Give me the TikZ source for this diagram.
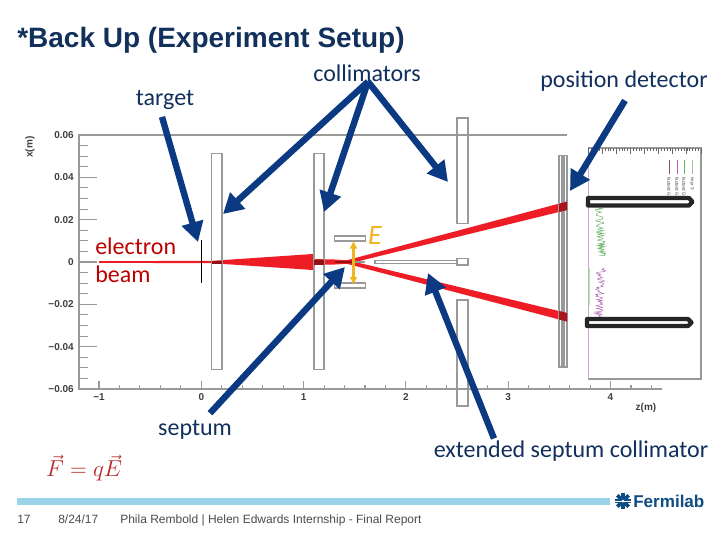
\documentclass[tikz,border=0pt]{standalone}
\usepackage{fontspec}
\setmainfont{Liberation Sans}
\newfontfamily\labelfont{Carlito}
\usetikzlibrary{arrows.meta, calc}
\definecolor{navyarrow}{HTML}{0B3A82}
\definecolor{navytext}{HTML}{12305C}
\definecolor{beamred}{HTML}{EE1C25}
\definecolor{darkred}{HTML}{8E1218}
\definecolor{axisgray}{HTML}{999999}
\definecolor{fieldyellow}{HTML}{F0B41E}
\definecolor{barblue}{HTML}{9BD3E8}
\definecolor{labblue}{HTML}{0F4C81}
\definecolor{formulared}{HTML}{B5282C}

\begin{document}
\begin{tikzpicture}[x=0.75pt,y=-0.75pt,
    callout/.style={line width=4.8pt,navyarrow,-{Triangle[length=15pt,width=16pt]}},
    lbl/.style={font=\labelfont\fontsize{18}{20}\selectfont,text=navytext,inner sep=0pt},
    ticklbl/.style={font=\bfseries\fontsize{7.5}{9}\selectfont,text=black!75,inner sep=0pt},
    plate/.style={draw=axisgray,line width=0.9pt},
    marker/.style={draw=black!85,line width=3.2pt,line join=round},
    foot/.style={font=\fontsize{9}{10}\selectfont,text=black!70,inner sep=0pt,anchor=base west}]
    \useasboundingbox[fill=white] (0,0) rectangle (720,540);

    % Title
    \node[anchor=base west,inner sep=0pt,text=navytext,font=\bfseries\fontsize{21}{24}\selectfont] (title) at (17,47) {*Back Up (Experiment Setup)};

    % Axes
    \draw[axisgray,line width=0.9pt] (567,135) -- (79,135) -- (79,389) -- (662,389);
    \foreach \k in {0,...,24} {
        \pgfmathsetmacro{\ypos}{135+\k*254/24}
        \draw[axisgray,line width=0.8pt] (79,\ypos) -- ++(9,0);
    }
    \foreach \k in {0,...,6} {
        \pgfmathsetmacro{\ypos}{135+\k*254/6}
        \draw[axisgray,line width=0.8pt] (79,\ypos) -- ++(18,0);
    }
    \foreach \k in {0,...,27} {
        \pgfmathsetmacro{\xpos}{99+\k*102.3/5}
        \draw[axisgray,line width=0.8pt] (\xpos,389) -- ++(0,-4);
    }
    \foreach \k/\t in {0/−1,1/0,2/1,3/2,4/3,5/4} {
        \pgfmathsetmacro{\xpos}{99+\k*102.3}
        \draw[axisgray,line width=0.8pt] (\xpos,389) -- ++(0,-8);
        \node[ticklbl] (zt\k) at (\xpos,397) {\t};
    }
    \foreach \k/\t in {0/0.06,1/0.04,2/0.02,3/0,4/−0.02,5/−0.04,6/−0.06} {
        \pgfmathsetmacro{\ypos}{135+\k*254/6}
        \node[ticklbl,anchor=east] (xt\k) at (74,\ypos) {\t};
    }
    \node[ticklbl,rotate=90] (xaxis) at (30,147) {x(m)};
    \node[ticklbl] (zaxis) at (646,408) {z(m)};

    % Side panel
    \draw[axisgray,line width=0.9pt] (588,148) -- (701,148) -- (701,379) -- (588,379);
    \draw[violet!35,line width=0.6pt] (588,148) -- (588,379);
    \foreach \k in {0,...,40} {
        \pgfmathsetmacro{\xpos}{588+\k*113/40}
        \draw[black!60,line width=0.4pt] (\xpos,148) -- ++(0,3);
    }
    \foreach \k in {0,...,8} {
        \pgfmathsetmacro{\xpos}{588+\k*113/8}
        \draw[black!60,line width=0.6pt] (\xpos,148) -- ++(0,6);
    }
    \pgfmathsetseed{17}
    \draw[green!50!black!60,line width=0.35pt] plot[domain=208:256,samples=60] ({595+8*rnd+(\x-208)*0.06},\x);
    \draw[violet!60,line width=0.35pt] plot[domain=268:320,samples=60] ({594+9*rnd+(320-\x)*0.05},\x);
    \draw[green!40,line width=0.4pt] (589,268) -- (589,305);
    \foreach \xpos/\t/\c in {692/hnyr 3/green!25!gray!60,684/factord G/green!50!black!60,677/factord G/violet!60,669/factord G/purple!60!black!70} {
        \draw[\c,line width=0.4pt] (\xpos,160) -- (\xpos,174);
        \node[rotate=-90,anchor=west,inner sep=0pt,text=black!75,font=\fontsize{3.4}{4}\selectfont] at (\xpos,177) {\t};
    }

    % Beam
    \fill[beamred] (99,261.2) -- (212,260.8) -- (313,254) -- (313,270) -- (212,263.2) -- (99,262.8) -- cycle;
    \fill[beamred] (313,259) -- (335,259.5) -- (350,260.5) -- (350,263.5) -- (335,264.5) -- (313,265) -- cycle;
    \fill[beamred] (344,261) -- (567,201.5) -- (567,210) -- (347,264) -- cycle;
    \fill[beamred] (347,260) -- (567,313) -- (567,321.5) -- (344,263) -- cycle;

    % Collimators and detector
    \foreach \a/\b/\c/\d in {211.5/153.5/222/369.5,314/153.5/324/369.5,457/118/468/223.5,457/300/468/406,559/155.5/562/367,564/155.5/567/367,334.5/236/365.5/241,334.5/283/365.5/288,457/258.5/468/265,375/260.5/457/263.5} {
        \draw[plate] (\a,\b) rectangle (\c,\d);
    }
    \fill[darkred] (211.5,261) rectangle (222,263.5);
    \fill[darkred] (314,259.5) rectangle (324,264.5);
    \fill[darkred] (335,261) rectangle (352,263);
    \draw[axisgray,line width=0.9pt] (352,262) -- (365,262);
    \fill[darkred!70!beamred] (559,204) -- (567,201.5) -- (567,210) -- (559,212) -- cycle;
    \fill[darkred!70!beamred] (559,311) -- (567,313) -- (567,321.5) -- (559,319.5) -- cycle;
    \draw[black,line width=0.8pt] (201.5,240) -- (201.5,283);

    % E field
    \draw[fieldyellow,line width=1.6pt,{Latex[length=6pt,width=6pt]}-{Latex[length=6pt,width=6pt]}] (353.5,240.5) -- (353.5,285);

    % Detector markers
    \draw[marker] (588,198) -- (689,198) -- (692.5,201.8) -- (689,205.5) -- (588,205.5) -- cycle;
    \draw[marker] (587,319) -- (688,319) -- (691.5,322.5) -- (688,326) -- (587,326) -- cycle;

    % Labels
    \node[lbl] (target) at (165,100) {target};
    \node[lbl] (collimators) at (367,73) {collimators};
    \node[lbl] (posdet) at (624,81) {position detector};
    \node[lbl] (septum) at (195,430) {septum};
    \node[lbl] (extsept) at (571,451) {extended septum collimator};
    \node[lbl,text=red!75!black,align=left,anchor=north west,font=\labelfont\fontsize{18}{21}\selectfont] (beam) at (95,238) {electron\\beam};
    \node[lbl,text=fieldyellow,font=\labelfont\itshape\fontsize{21}{22}\selectfont] (efield) at (375,236) {E};
    \node[inner sep=0pt,text=formulared,font=\fontsize{17.5}{20}\selectfont] (force) at (84,468) {$\vec{F}=q\vec{E}$};

    % Tips
    \coordinate (tipTarget) at (198,242);
    \coordinate (tipColA) at (223,214);
    \coordinate (tipColB) at (324,212);
    \coordinate (tipColC) at (448,182);
    \coordinate (tipDet) at (570,191);
    \coordinate (tipSeptum) at (345,267);
    \coordinate (tipExt) at (428,273);

    \draw[callout] ($(target.south)+(-3,7)$) -- (tipTarget);
    \draw[callout] ($(collimators.south)+(1,0)$) -- (tipColA);
    \draw[callout] ($(collimators.south)+(1,0)$) -- (tipColB);
    \draw[callout] ($(collimators.south)+(1,0)$) -- (tipColC);
    \draw[callout] ($(posdet.south)+(1,9)$) -- (tipDet);
    \draw[callout] ($(septum.north)+(15,-7)$) -- (tipSeptum);
    \draw[callout] ($(extsept.north)+(-77,-2)$) -- (tipExt);

    % Footer
    \fill[barblue] (17,498) rectangle (610,505);
    \node[foot] (page) at (17,523) {17};
    \node[foot] (date) at (58,523) {8/24/17};
    \node[foot] (report) at (120,523) {Phila Rembold | Helen Edwards Internship - Final Report};
    \node[inner sep=0pt,anchor=west,text=labblue,font=\bfseries\fontsize{12.8}{15}\selectfont] (fermilab) at (633,501) {Fermilab};
    \fill[labblue] (623,501) circle (5.5);
    \foreach \ang in {0,45,...,315}
        \fill[labblue] (623,501) ++(\ang:4.5) ++(\ang+90:1.8) -- ++(\ang:3.5) -- ++(\ang-90:3.6) -- ++(\ang:-3.5) -- cycle;
    \fill[white] (623,501) circle (1.5);
    \fill[white] (615,500.5) rectangle (631,501.5);
\end{tikzpicture}
\end{document}
